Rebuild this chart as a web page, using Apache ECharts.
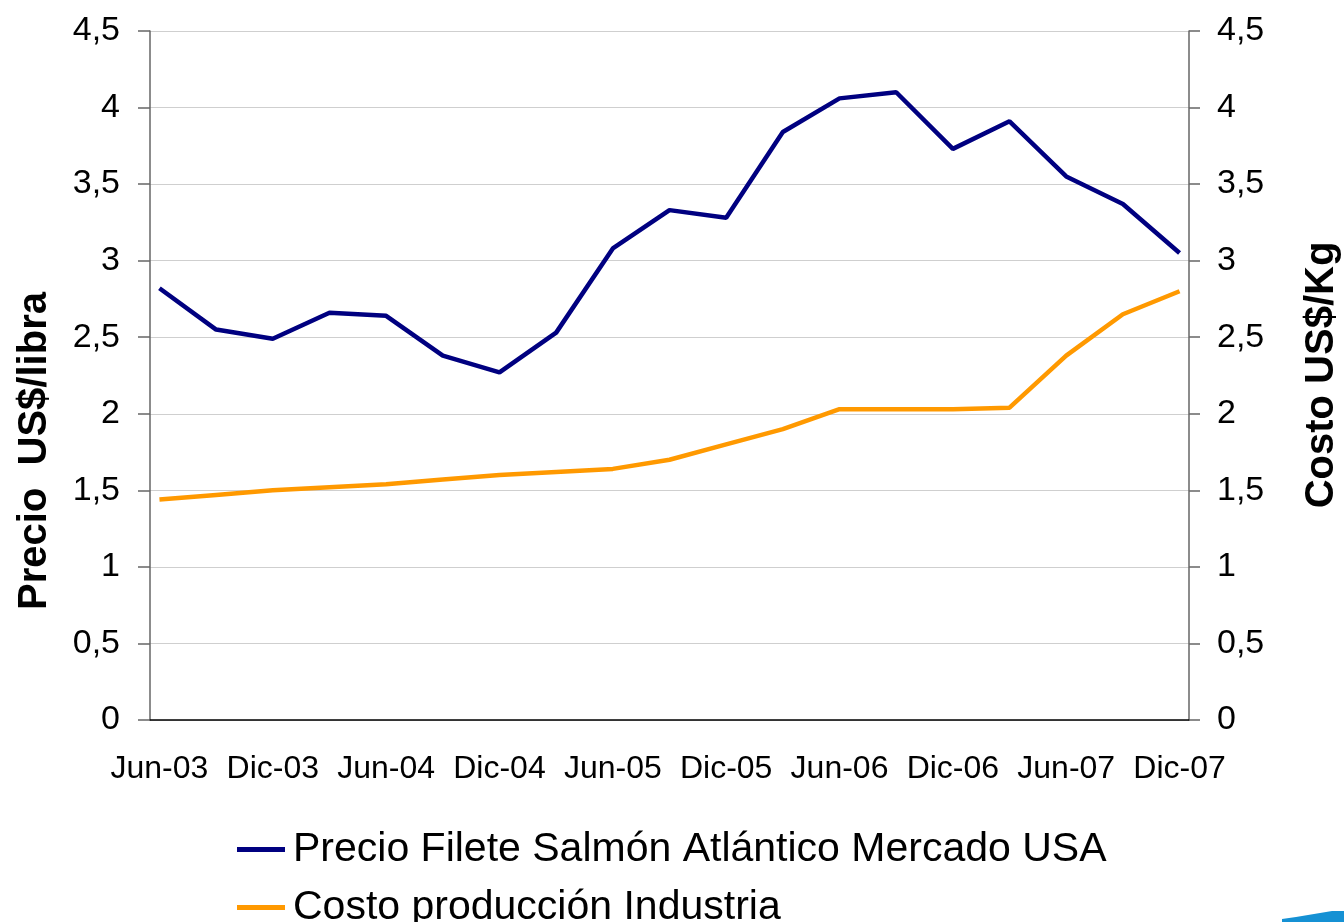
<!DOCTYPE html>
<html>
<head>
<meta charset="utf-8">
<script src="https://cdn.jsdelivr.net/npm/echarts@6/dist/echarts.min.js"></script>
<style>
  html, body { margin: 0; padding: 0; background: #fff; }
  #chart { width: 1344px; height: 922px; }
</style>
</head>
<body>
<div id="chart"></div>
<script>
// etiquetas del eje X (cada 6 meses) y datos trimestrales
var tickLabels = ['Jun-03', 'Dic-03', 'Jun-04', 'Dic-04', 'Jun-05', 'Dic-05', 'Jun-06', 'Dic-06', 'Jun-07', 'Dic-07'];
var quarters = ['Jun-03', 'Sep-03', 'Dic-03', 'Mar-04', 'Jun-04', 'Sep-04', 'Dic-04', 'Mar-05', 'Jun-05', 'Sep-05',
                'Dic-05', 'Mar-06', 'Jun-06', 'Sep-06', 'Dic-06', 'Mar-07', 'Jun-07', 'Sep-07', 'Dic-07'];
var precio = [2.82, 2.55, 2.49, 2.66, 2.64, 2.38, 2.27, 2.53, 3.08, 3.33, 3.28, 3.84, 4.06, 4.10, 3.73, 3.91, 3.55, 3.37, 3.05];
var costo = [1.44, 1.47, 1.50, 1.52, 1.54, 1.57, 1.60, 1.62, 1.64, 1.70, 1.80, 1.90, 2.03, 2.03, 2.03, 2.04, 2.38, 2.65, 2.80];

var FONT = '"Liberation Sans", Arial, sans-serif';

// eje de fechas mensual: 55 meses, un punto cada trimestre
var nMonths = (quarters.length - 1) * 3 + 1;
var months = [];
for (var i = 0; i < nMonths; i++) {
	months.push(i % 6 === 0 ? tickLabels[i / 6] : '');
}
var toMonthly = function (vals) {
	var res = [];
	for (var i = 0; i < nMonths; i++) res.push(null);
	for (var j = 0; j < vals.length; j++) res[j * 3] = vals[j];
	return res;
};
var fmt = function (v) { return String(v).replace('.', ','); };

var myChart = echarts.init(document.getElementById('chart'));
var option = {
	animation: false,
	textStyle: { fontFamily: FONT },
	grid: { left: 150, right: 155, top: 31, bottom: 202, containLabel: false },
	legend: {
		orient: 'vertical',
		left: 237,
		top: 829,
		height: 200,
		padding: 0,
		icon: 'rect',
		itemWidth: 48,
		itemHeight: 5,
		itemGap: 17,
		textStyle: { fontSize: 41, lineHeight: 38, color: '#000', fontFamily: FONT, padding: [0, 0, 0, 3] },
		data: ['Precio Filete Salmón Atlántico Mercado USA', 'Costo producción Industria']
	},
	xAxis: {
		type: 'category',
		data: months,
		boundaryGap: true,
		axisLine: { lineStyle: { color: '#000', width: 1.5 } },
		axisTick: { interval: 5, length: 10, lineStyle: { color: '#000', width: 1.5 } },
		axisLabel: { interval: 5, margin: 33, fontSize: 32, color: '#000', fontFamily: FONT },
		splitLine: { show: false }
	},
	yAxis: [{
		type: 'value',
		min: 0, max: 4.5, interval: 0.5,
		axisLine: { show: true, lineStyle: { color: '#666', width: 1.5 } },
		axisTick: { show: true, length: 12, lineStyle: { color: '#666', width: 1.5 } },
		axisLabel: { margin: 30, fontSize: 34, color: '#000', fontFamily: FONT, formatter: fmt, padding: [7, 0, 0, 0] },
		splitLine: { lineStyle: { color: '#cfcfcf', width: 1.2 } }
	}, {
		type: 'value',
		min: 0, max: 4.5, interval: 0.5,
		position: 'right',
		axisLine: { show: true, lineStyle: { color: '#666', width: 1.5 } },
		axisTick: { show: true, length: 11, lineStyle: { color: '#666', width: 1.5 } },
		axisLabel: { margin: 28, fontSize: 34, color: '#000', fontFamily: FONT, formatter: fmt, padding: [7, 0, 0, 0] },
		splitLine: { show: false }
	}],
	series: [{
		name: 'Precio Filete Salmón Atlántico Mercado USA',
		type: 'line',
		data: toMonthly(precio),
		connectNulls: true,
		showSymbol: false,
		color: '#000080',
		lineStyle: { width: 4.5, color: '#000080' }
	}, {
		name: 'Costo producción Industria',
		type: 'line',
		yAxisIndex: 1,
		data: toMonthly(costo),
		connectNulls: true,
		showSymbol: false,
		color: '#ff9900',
		lineStyle: { width: 4.5, color: '#ff9900' }
	}],
	graphic: [{
		type: 'text',
		x: 35, y: 451,
		rotation: Math.PI / 2,
		style: { text: 'Precio  US$/libra', font: 'bold 40px ' + FONT, fill: '#000', align: 'center', verticalAlign: 'middle' }
	}, {
		type: 'text',
		x: 1322, y: 375,
		rotation: Math.PI / 2,
		style: { text: 'Costo US$/Kg', font: 'bold 40px ' + FONT, fill: '#000', align: 'center', verticalAlign: 'middle' }
	}, {
		type: 'polygon',
		shape: { points: [[1282, 922], [1344, 922], [1344, 911], [1332, 911], [1296, 917], [1282, 919]] },
		style: { fill: '#1591d4' }
	}]
};
myChart.setOption(option);
</script>
</body>
</html>
